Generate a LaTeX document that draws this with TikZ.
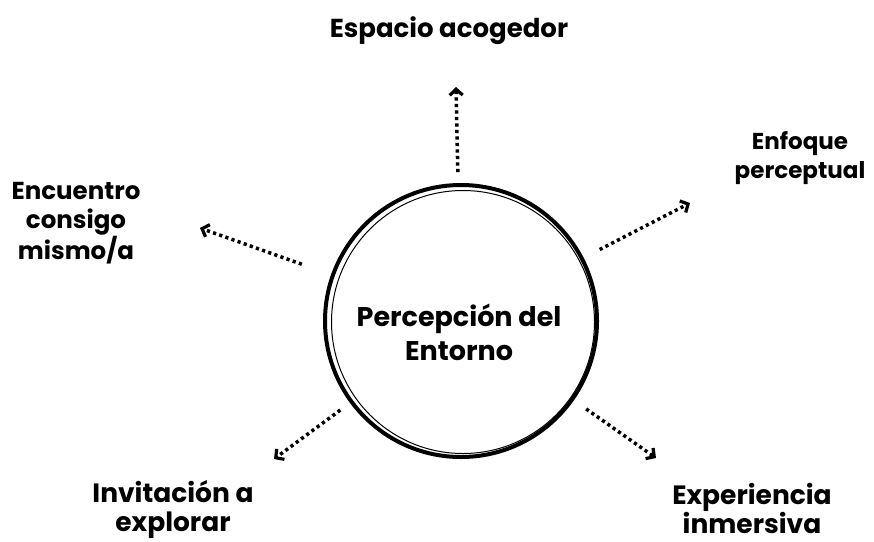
\documentclass[tikz,border=0pt]{standalone}
\usepackage{fontspec}
\setmainfont{Poppins}
\usetikzlibrary{arrows.meta}
\begin{document}
\begin{tikzpicture}[x=1pt, y=-1pt,
    lbl/.style={font=\bfseries\fontsize{#1}{29}\selectfont, align=center},
    lbl/.default=23,
    ring/.style={circle, draw, line width=4pt, minimum size=272pt, inner sep=0pt, outer sep=0pt},
    arr/.style={line width=3.5pt, dash pattern=on 3.2pt off 3.3pt,
        -{Straight Barb[length=6pt, width=13pt, line width=3.2pt]}}]
    \useasboundingbox (0,0) rectangle (874,541);

    \node[ring] (c) at (461, 321) {};
    \draw[line width=1pt] (463, 322) circle (131.5pt);
    \node[font=\bfseries\fontsize{27}{34}\selectfont, align=center] (ctr) at (459, 332) {Percepción del\\Entorno};

    \node[lbl=26] (esp) at (449, 31) {Espacio acogedor};
    \node[lbl] (enf) at (800, 158) {Enfoque\\perceptual};
    \node[lbl=24.5] (enc) at (76, 223) {Encuentro\\consigo\\mismo/a};
    \node[lbl=26.5] (inv) at (173, 509) {Invitación a\\explorar};
    \node[lbl=26.5] (exp) at (752, 508) {Experiencia\\inmersiva};

    \coordinate (t1) at (456, 87);
    \coordinate (t2) at (690, 203);
    \coordinate (t3) at (200, 228);
    \coordinate (t4) at (274, 459);
    \coordinate (t5) at (656, 458);

    \draw[arr, shorten <=13pt] (c) -- (t1);
    \draw[arr, shorten <=20pt] (c) -- (t2);
    \draw[arr, shorten <=33pt] (c) -- (t3);
    \draw[arr, shorten <=14pt] (c) -- (t4);
    \draw[arr, shorten <=17pt] (c) -- (t5);
\end{tikzpicture}
\end{document}
